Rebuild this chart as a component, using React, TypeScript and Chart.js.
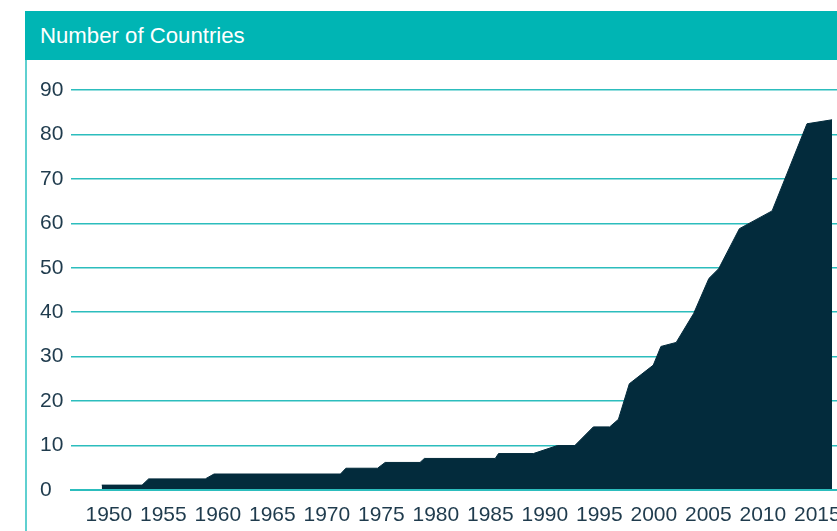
import React, { useEffect, useRef } from "react";
import { Chart, registerables } from "chart.js";

Chart.register(...registerables);

const title = "Number of Countries";

// Year (fractional) and number of countries
const years = [
  1950.0, 1953.7, 1954.3, 1959.5, 1960.3, 1971.9, 1972.4, 1975.3, 1976.0,
  1979.2, 1979.6, 1986.1, 1986.4, 1989.6, 1991.8, 1993.4, 1995.1, 1996.6,
  1997.4, 1998.4, 2000.6, 2001.3, 2002.7, 2004.3, 2005.7, 2006.6, 2008.5,
  2011.5, 2014.7, 2017.0,
];
const countries = [
  1.1, 1.1, 2.5, 2.5, 3.6, 3.6, 4.9, 4.9, 6.2, 6.2, 7.1, 7.1, 8.2, 8.2, 10.0,
  10.0, 14.2, 14.2, 15.9, 23.9, 28.1, 32.3, 33.2, 39.7, 47.6, 49.8, 58.8,
  62.8, 82.4, 83.3,
];
const tickYears = [
  1950, 1955, 1960, 1965, 1970, 1975, 1980, 1985, 1990, 1995, 2000, 2005,
  2010, 2015,
];
const yMin = 0;
const yMax = 90;
const yStep = 10;

const FONT = '"Liberation Sans", Arial, Helvetica, sans-serif';
const TEXT = "#1f3b4d";
const GRID = "#2cbdbd";
const AREA = "#032b3c";

export default function App() {
  const ref = useRef<HTMLCanvasElement>(null);

  useEffect(() => {
    document.body.style.margin = "0";
    const canvas = ref.current;
    if (!canvas) return;
    const chart = new Chart(canvas, {
      type: "line",
      data: {
        datasets: [
          {
            data: years.map((x, i) => ({ x, y: countries[i] })),
            fill: "origin",
            backgroundColor: AREA,
            borderColor: AREA,
            borderWidth: 1,
            pointRadius: 0,
            tension: 0,
          },
        ],
      },
      options: {
        animation: false,
        responsive: false,
        maintainAspectRatio: false,
        layout: { padding: { left: 13, top: 30, right: 0, bottom: 0 } },
        plugins: { legend: { display: false }, tooltip: { enabled: false } },
        scales: {
          x: {
            type: "linear",
            min: 1947.18,
            max: 2025.71,
            grid: { display: false, drawTicks: false },
            border: { display: true, color: GRID, width: 2, z: 1 },
            ticks: {
              font: { size: 21, family: FONT },
              color: TEXT,
              padding: 13,
              maxRotation: 0,
              autoSkip: false,
              callback: (v: any) => String(Math.floor(Number(v))),
            },
            afterBuildTicks: (s: any) => {
              s.ticks = tickYears.map((y) => ({ value: y + 0.65 }));
            },
            afterFit: (s: any) => {
              s.height = 41;
            },
          },
          y: {
            min: yMin,
            max: yMax,
            ticks: {
              stepSize: yStep,
              crossAlign: "far",
              font: { size: 21, family: FONT },
              color: TEXT,
            },
            grid: { color: GRID, lineWidth: 1.5, drawTicks: false },
            border: { display: false },
            afterFit: (s: any) => {
              s.width = 31;
            },
          },
        },
      },
    });
    return () => chart.destroy();
  }, []);

  return (
    <div
      style={{
        position: "fixed",
        left: 0,
        top: 0,
        width: 837,
        height: 531,
        overflow: "hidden",
        background: "#ffffff",
      }}
    >
      <div
        style={{
          position: "absolute",
          left: 25,
          top: 11,
          width: 900,
          height: 49,
          background: "#00b5b4",
        }}
      >
        <div
          style={{
            position: "absolute",
            left: 15,
            top: 0,
            height: 49,
            lineHeight: "49px",
            color: "#ffffff",
            fontFamily: FONT,
            fontSize: 22.2,
            whiteSpace: "nowrap",
          }}
        >
          {title}
        </div>
      </div>
      <div
        style={{
          position: "absolute",
          left: 25,
          top: 60,
          width: 2,
          height: 471,
          background: "#5fd0d0",
        }}
      />
      <canvas
        ref={ref}
        width={900}
        height={471}
        style={{ position: "absolute", left: 27, top: 60, display: "block" }}
      />
    </div>
  );
}
